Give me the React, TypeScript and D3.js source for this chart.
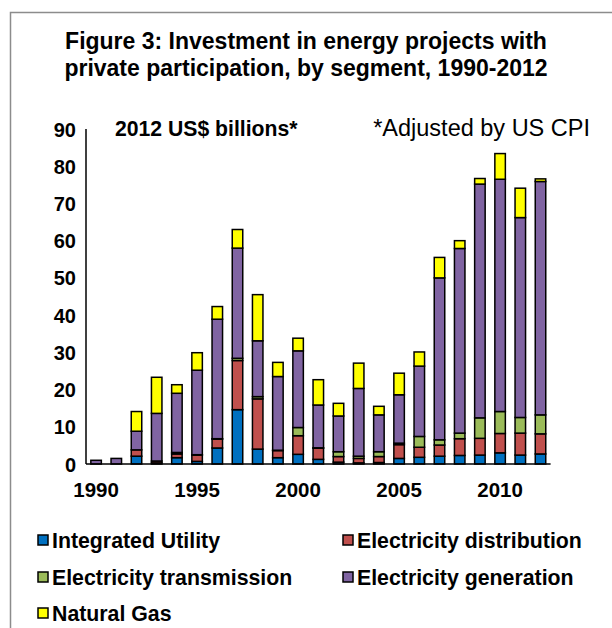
import React from "react";
import * as d3 from "d3";

const years = [1990,1991,1992,1993,1994,1995,1996,1997,1998,1999,2000,2001,2002,2003,2004,2005,2006,2007,2008,2009,2010,2011,2012];
const integratedUtility = [0,0,2.1,0.3,1.7,0.7,4.3,14.6,4.0,1.7,2.6,1.25,0.5,0.3,0.4,1.5,1.8,2.1,2.3,2.4,3.0,2.4,2.7];
const elecDistribution = [0,0,1.7,0.5,1.0,1.7,2.4,13.2,13.5,1.9,5.0,3.0,1.5,1.2,1.6,3.7,2.7,3.0,4.5,4.5,5.2,5.9,5.4];
const elecTransmission = [0,0,0,0,0.4,0.1,0.1,0.6,0.6,0.1,2.2,0.1,1.3,0.6,1.3,0.4,2.9,1.4,1.5,5.5,5.9,4.2,5.1];
const elecGeneration = [1.0,1.5,5.0,12.8,15.9,22.7,32.1,29.6,15.0,19.8,20.6,11.5,9.6,18.2,9.9,13.0,18.9,43.5,49.6,62.8,62.4,53.7,62.7];
const naturalGas = [0,0,5.3,9.7,2.3,4.7,3.4,5.0,12.4,3.8,3.4,6.8,3.4,6.8,2.3,5.8,3.8,5.5,2.1,1.5,6.9,7.9,0.7];

const seriesNames = ["Integrated Utility","Electricity distribution","Electricity transmission","Electricity generation","Natural Gas"];
const seriesColors = ["#0070C0","#C0504D","#9BBB59","#8064A2","#FFFF00"];
const yTicks = [0,10,20,30,40,50,60,70,80,90];
const xTickLabels = [1990,1995,2000,2005,2010];

const FONT = "'Liberation Sans', Arial, Helvetica, sans-serif";

export default function App() {
  const keys = ["iu","ed","et","eg","ng"];
  const rows = years.map((y, i) => ({
    year: y,
    iu: integratedUtility[i],
    ed: elecDistribution[i],
    et: elecTransmission[i],
    eg: elecGeneration[i],
    ng: naturalGas[i],
  }));
  const stacked = d3.stack<any>().keys(keys)(rows);

  const x = d3.scaleBand<number>()
    .domain(years)
    .range([86, 550.6])
    .paddingInner(0.48)
    .paddingOuter(0.24);
  const y = d3.scaleLinear().domain([0, 90]).range([464, 129]);

  const legendPos = [
    { x: 38, y: 540 },
    { x: 343, y: 540 },
    { x: 38, y: 577 },
    { x: 343, y: 577 },
    { x: 38, y: 613 },
  ];

  return (
    <svg width={612} height={628} style={{ position: "absolute", left: 0, top: 0, background: "#fff" }} fontFamily={FONT}>
      <rect x={0} y={0} width={612} height={628} fill="#fff" />
      {/* frame */}
      <path d="M10.5,628 L10.5,12.5 L612,12.5" fill="none" stroke="#8c8c8c" strokeWidth={1.5} />
      {/* title */}
      <text x={306} y={49} textAnchor="middle" fontSize={23} fontWeight="bold" fill="#000">
        Figure 3: Investment in energy projects with
      </text>
      <text x={306} y={76} textAnchor="middle" fontSize={23} fontWeight="bold" fill="#000">
        private participation, by segment, 1990-2012
      </text>
      <text x={115} y={136} fontSize={21.2} fontWeight="bold" fill="#000">2012 US$ billions*</text>
      <text x={590} y={136} textAnchor="end" fontSize={23.5} fill="#000">*Adjusted by US CPI</text>

      {/* y tick labels */}
      {yTicks.map((t) => (
        <text key={t} x={76} y={y(t) + 7.5} textAnchor="end" fontSize={20} fontWeight="bold" fill="#000">{t}</text>
      ))}
      {/* x tick labels */}
      {xTickLabels.map((t) => (
        <text key={t} x={(x(t) as number) + x.bandwidth() / 2} y={497} textAnchor="middle" fontSize={20.5} fontWeight="bold" fill="#000">{t}</text>
      ))}

      {/* bars */}
      {stacked.map((s, si) => (
        <g key={s.key} fill={seriesColors[si]} stroke="#000" strokeWidth={1.5}>
          {s.map((d, i) => {
            const h = y(d[0]) - y(d[1]);
            if (d[1] - d[0] <= 0) return null;
            return (
              <rect key={i} x={x(years[i]) as number} y={y(d[1])} width={x.bandwidth()} height={h} />
            );
          })}
        </g>
      ))}

      {/* axes */}
      <line x1={86} y1={129} x2={86} y2={464} stroke="#000" strokeWidth={1.5} />
      <line x1={86} y1={464} x2={550.6} y2={464} stroke="#000" strokeWidth={1.5} />

      {/* legend */}
      {seriesNames.map((n, i) => (
        <g key={n}>
          <rect x={legendPos[i].x} y={legendPos[i].y - 5} width={10} height={10} fill={seriesColors[i]} stroke="#000" strokeWidth={1.5} />
          <text x={legendPos[i].x + 14} y={legendPos[i].y + 7.5} fontSize={21.3} fontWeight="bold" fill="#000">{n}</text>
        </g>
      ))}
    </svg>
  );
}
